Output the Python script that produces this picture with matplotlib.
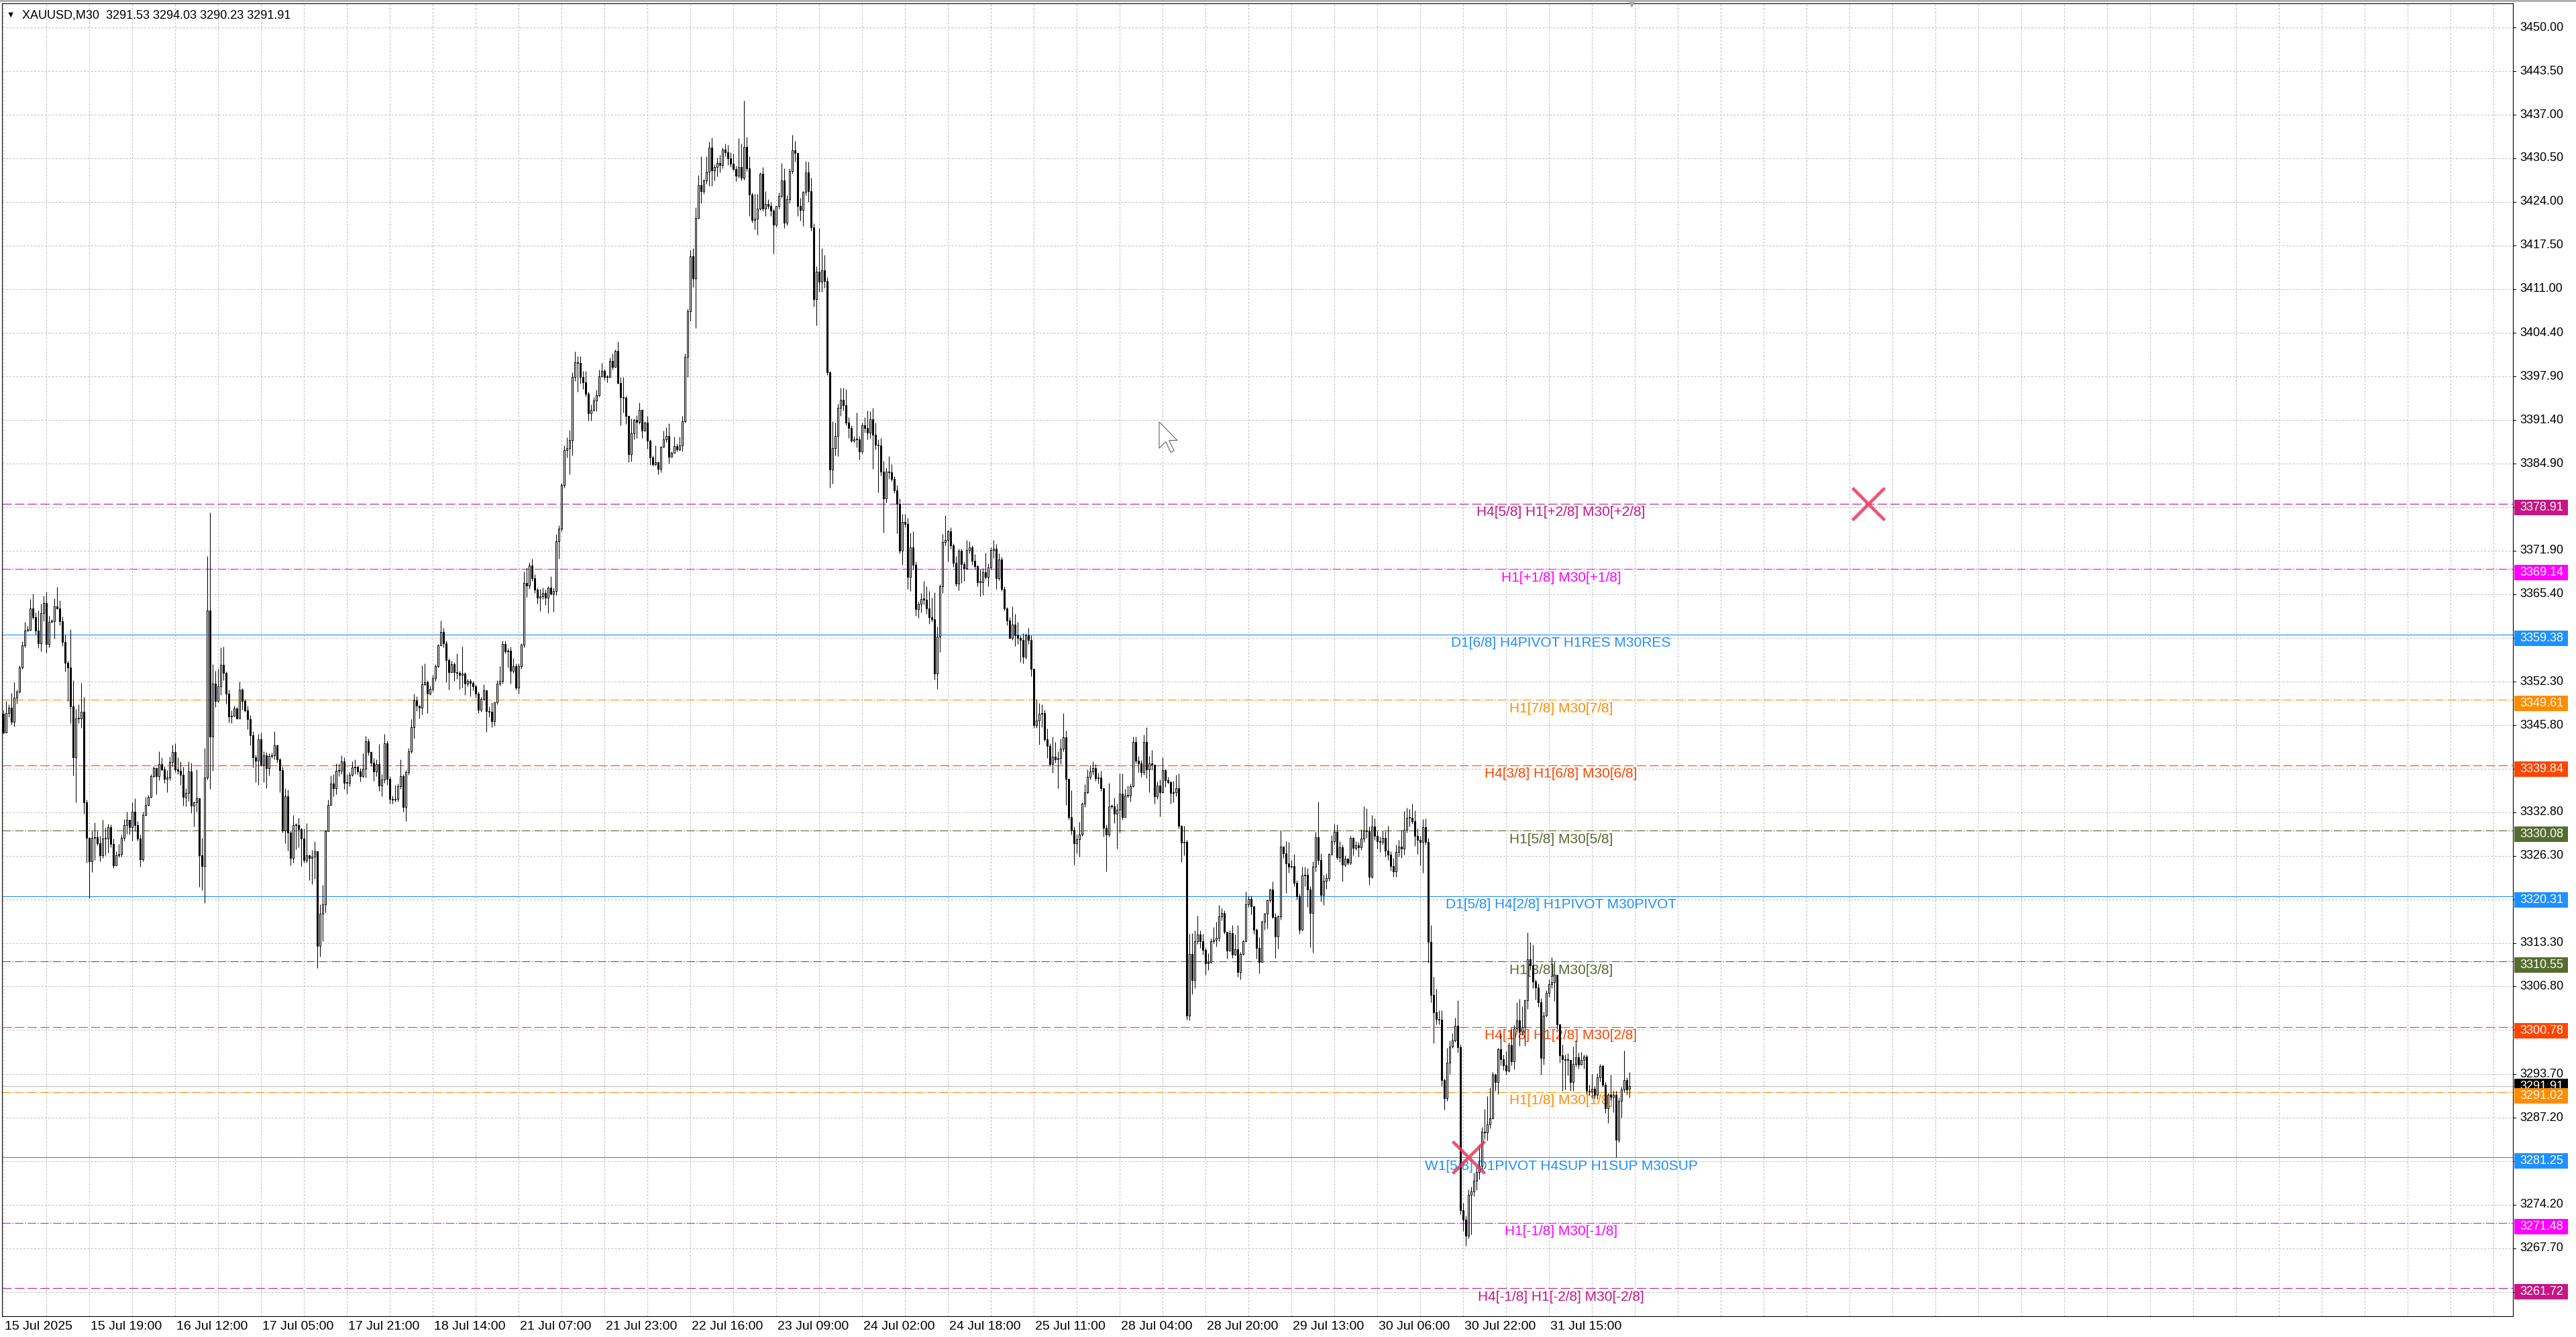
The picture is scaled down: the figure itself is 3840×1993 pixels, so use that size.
import numpy as np
import matplotlib
matplotlib.use('Agg')
import matplotlib.pyplot as plt
from matplotlib.patches import Rectangle, Polygon
from matplotlib.transforms import blended_transform_factory, IdentityTransform

plt.rcParams['font.family'] = ['Liberation Sans', 'DejaVu Sans']
plt.rcParams['lines.scale_dashes'] = False

# ---- data (M30 bars, left to right) ----
symbol = 'XAUUSD,M30'
last_ohlc = [3291.53, 3294.03, 3290.23, 3291.91]
first_open = 3347.5

closes = [
    3344.7, 3347.6, 3348.4, 3346.3, 3349.9, 3350.8, 3354.4, 3357.7, 3360.0, 3360.1,
    3363.3, 3362.0, 3360.0, 3358.0, 3362.6, 3364.1, 3357.9, 3361.3, 3361.4, 3363.6,
    3363.3, 3361.4, 3358.3, 3355.1, 3354.4, 3348.6, 3341.0, 3346.8, 3346.8, 3347.8,
    3334.3, 3329.0, 3325.5, 3329.0, 3329.1, 3328.2, 3326.4, 3328.9, 3328.9, 3330.6,
    3328.1, 3324.9, 3326.4, 3326.6, 3329.0, 3330.9, 3331.7, 3330.6, 3332.9, 3330.9,
    3328.9, 3325.8, 3332.4, 3333.9, 3335.1, 3338.2, 3339.4, 3338.2, 3340.0, 3339.2,
    3337.8, 3338.0, 3340.3, 3341.8, 3339.2, 3339.0, 3338.4, 3335.1, 3335.7, 3338.9,
    3333.8, 3334.3, 3334.9, 3326.4, 3324.8, 3338.0, 3363.0, 3344.1, 3352.0, 3349.4,
    3351.6, 3354.8, 3353.6, 3350.5, 3347.1, 3347.2, 3348.3, 3346.8, 3351.1, 3349.4,
    3348.0, 3346.7, 3344.3, 3341.0, 3340.5, 3343.7, 3339.9, 3341.3, 3339.4, 3341.2,
    3341.3, 3342.8, 3340.7, 3339.1, 3330.1, 3335.2, 3329.8, 3326.0, 3330.9, 3330.9,
    3330.3, 3328.9, 3325.7, 3326.4, 3326.0, 3326.2, 3327.0, 3312.9, 3317.7, 3319.1,
    3330.0, 3333.9, 3337.1, 3336.4,
    3339.0, 3339.0, 3340.4, 3337.2, 3337.2, 3338.4, 3339.5, 3339.6, 3338.9, 3338.2,
    3339.3, 3343.4, 3341.8, 3340.2, 3338.9, 3340.0, 3336.8, 3337.7, 3343.1, 3337.8,
    3334.8, 3334.7, 3334.8, 3336.7, 3338.2, 3333.6, 3338.8, 3341.9, 3345.5, 3349.5,
    3348.7, 3348.4, 3351.9, 3352.2, 3350.5, 3351.2, 3352.8, 3354.6, 3357.7, 3359.8,
    3358.0, 3355.5, 3353.7, 3354.9, 3353.7, 3353.6, 3353.3, 3353.5, 3352.0, 3352.4,
    3352.1, 3351.6, 3350.5, 3348.1, 3349.7, 3351.0, 3347.9, 3347.8, 3346.4, 3349.2,
    3352.0, 3352.4, 3357.9, 3356.8, 3356.9, 3353.9, 3354.6, 3351.4, 3354.6, 3357.8,
    3367.1, 3366.7, 3369.7, 3367.8, 3366.1, 3364.9, 3365.1, 3365.6, 3364.9, 3366.4,
    3365.5, 3365.9, 3373.3, 3375.2, 3381.7, 3386.9, 3387.2, 3388.4, 3397.8, 3400.0,
    3399.9, 3397.8, 3397.0, 3395.3, 3392.4, 3392.9, 3394.3, 3395.1, 3397.9,
    3398.7, 3397.8, 3397.8, 3400.2, 3399.3, 3401.7, 3396.9, 3394.8, 3394.7, 3392.0,
    3386.3, 3389.4, 3391.4, 3391.1, 3392.9, 3389.8, 3391.0, 3388.3, 3385.8, 3384.8,
    3385.1, 3384.1, 3387.4, 3388.5, 3389.0, 3385.9, 3386.5, 3387.5, 3387.0, 3387.6,
    3391.2, 3400.8, 3407.6, 3415.9, 3412.6, 3421.6, 3426.5, 3425.6, 3427.2, 3428.5,
    3432.1, 3428.7, 3429.2, 3429.8, 3429.5, 3431.8, 3431.4, 3430.5, 3429.7, 3428.9,
    3427.9, 3429.2, 3427.6, 3432.2, 3429.0, 3425.1, 3421.3, 3421.5, 3423.0, 3428.2,
    3423.0, 3423.7, 3423.4, 3422.7, 3420.6, 3423.4, 3424.9, 3427.2, 3420.9, 3424.4,
    3428.6, 3431.7, 3431.3, 3423.4, 3422.8, 3425.5, 3428.4, 3425.6, 3420.2, 3409.5,
    3413.6, 3412.1, 3413.8, 3412.2, 3398.5, 3384.0, 3387.2, 3389.0, 3393.2, 3394.4,
    3393.6, 3391.0, 3390.2, 3388.3, 3388.5, 3388.5, 3386.7, 3390.6, 3390.2,
    3389.5, 3391.5, 3389.2, 3387.7, 3387.6, 3383.7, 3379.7, 3383.7, 3383.6, 3382.6,
    3380.9, 3378.9, 3371.9, 3376.2, 3375.9, 3368.0, 3372.4, 3369.8, 3363.2, 3364.0,
    3364.7, 3364.6, 3363.3, 3362.0, 3361.7, 3353.5, 3359.1, 3366.6, 3373.2, 3373.5,
    3374.8, 3372.7, 3370.1, 3367.0, 3371.9, 3369.9, 3369.3, 3372.0, 3372.4, 3370.4,
    3369.6, 3367.2, 3367.2, 3368.7, 3368.0, 3369.4, 3372.0, 3372.2, 3367.8, 3370.6,
    3366.2, 3363.3, 3361.5, 3358.9, 3360.9, 3359.3, 3358.9, 3358.6, 3356.0, 3359.3,
    3358.6, 3354.2, 3345.8, 3346.5, 3347.5, 3347.6, 3343.7, 3342.7, 3340.0, 3341.1,
    3340.7, 3340.9, 3342.3, 3344.0, 3337.8, 3332.1, 3330.2, 3328.2, 3328.8, 3329.5,
    3334.1, 3335.8, 3338.1, 3338.9, 3339.4, 3337.9, 3338.0, 3336.4, 3330.5, 3329.5,
    3333.7, 3333.7, 3332.6, 3333.2, 3335.6, 3332.1, 3335.3, 3335.3,
    3336.7, 3343.3, 3340.5, 3340.1, 3338.8, 3343.3, 3339.2, 3340.1, 3339.9, 3335.2,
    3336.8, 3335.8, 3339.1, 3337.6, 3337.3, 3335.7, 3335.8, 3336.4, 3330.8, 3328.3,
    3328.4, 3302.4, 3311.7, 3307.7, 3313.6, 3314.6, 3313.6, 3312.3, 3310.3, 3310.5,
    3313.6, 3313.8, 3314.1, 3317.3, 3317.8, 3315.0, 3312.2, 3314.8, 3311.6, 3312.4,
    3309.0, 3311.7, 3313.6, 3319.1, 3319.9, 3318.8, 3315.3, 3312.6, 3310.5, 3316.5,
    3317.7, 3319.7, 3321.3, 3317.2, 3314.3, 3317.3, 3327.7, 3326.7, 3325.2, 3324.7,
    3324.8, 3322.3, 3320.3, 3315.3, 3323.4, 3323.5, 3321.3, 3317.8, 3324.7, 3329.1,
    3325.7, 3320.5, 3322.6, 3323.0, 3326.6, 3328.5, 3329.9, 3326.1, 3327.6, 3325.0,
    3325.9, 3325.3, 3329.0, 3327.5, 3327.9, 3327.6, 3328.9, 3330.1, 3330.0, 3323.2,
    3330.7, 3329.3, 3328.5, 3328.4, 3329.0, 3327.1, 3326.5, 3324.8, 3324.0,
    3326.9, 3327.7, 3327.4, 3330.2, 3332.0, 3332.0, 3331.5, 3329.3, 3328.7, 3328.4,
    3330.6, 3328.4, 3313.5, 3305.5, 3302.9, 3301.9, 3301.8, 3292.8, 3290.1, 3295.4,
    3297.8, 3298.7, 3300.9, 3297.7, 3273.4, 3272.0, 3269.6, 3275.7, 3276.2, 3277.8,
    3279.1, 3280.0, 3285.1, 3285.0, 3286.2, 3287.1, 3293.6, 3292.5, 3297.4, 3295.9,
    3295.0, 3294.2, 3298.0, 3295.6, 3300.5, 3301.7, 3300.0, 3300.7, 3304.7, 3310.9,
    3310.0, 3307.5, 3306.6, 3304.4, 3296.1, 3302.4, 3305.8, 3307.1, 3307.4, 3308.6,
    3301.1, 3296.5, 3295.9, 3295.8, 3295.8, 3292.5, 3295.2, 3296.2, 3295.1, 3295.8,
    3296.3, 3291.2, 3291.1, 3291.5, 3290.6, 3293.2, 3294.9, 3292.1, 3288.6, 3290.6,
    3290.3, 3290.6, 3283.9, 3289.7, 3291.4, 3292.8, 3291.4, 3291.91,
]

highs = [
    3348.0, 3349.4, 3348.9, 3350.6, 3352.2, 3351.1, 3354.7, 3358.4, 3361.3, 3360.7,
    3364.7, 3365.5, 3362.7, 3363.0, 3364.0, 3365.2, 3365.8, 3362.2, 3361.7, 3364.8,
    3366.5, 3364.5, 3362.1, 3359.4, 3355.4, 3360.2, 3352.5, 3348.2, 3348.9, 3352.1,
    3350.0, 3334.7, 3329.1, 3330.0, 3331.3, 3330.0, 3329.3, 3331.7, 3330.5, 3331.1,
    3331.0, 3328.9, 3327.0, 3328.1, 3329.5, 3331.8, 3332.9, 3331.5, 3334.3, 3334.9,
    3331.5, 3329.5, 3332.9, 3335.1, 3335.4, 3338.5, 3339.7, 3339.5, 3341.9, 3341.0,
    3339.7, 3339.1, 3341.1, 3342.9, 3343.1, 3341.0, 3340.4, 3339.6, 3336.4, 3340.4,
    3340.2, 3334.4, 3339.2, 3334.5, 3329.0, 3342.4, 3371.1, 3377.6, 3354.9, 3353.9,
    3354.2, 3357.4, 3357.5, 3353.8, 3351.1, 3348.0, 3348.7, 3348.5, 3352.3, 3351.3,
    3349.7, 3348.7, 3347.3, 3344.9, 3341.4, 3344.5, 3344.7, 3341.9, 3341.8, 3341.6,
    3341.7, 3344.9, 3342.9, 3340.9, 3339.6, 3336.4, 3336.2, 3330.1, 3332.4, 3331.2,
    3332.0, 3330.5, 3330.4, 3331.2, 3326.5, 3327.2, 3328.5, 3326.8, 3319.1, 3322.0,
    3330.2, 3334.7, 3338.3, 3338.5,
    3340.1, 3340.1, 3341.3, 3341.0, 3338.5, 3338.8, 3340.4, 3340.7, 3339.7, 3339.4,
    3341.6, 3344.2, 3343.8, 3341.9, 3340.9, 3340.7, 3343.0, 3338.5, 3344.5, 3343.5,
    3338.2, 3335.3, 3336.9, 3337.1, 3340.7, 3338.5, 3339.1, 3342.4, 3346.7, 3350.5,
    3350.1, 3348.6, 3354.7, 3355.0, 3352.5, 3351.7, 3353.3, 3354.9, 3357.9, 3361.5,
    3360.4, 3358.5, 3355.8, 3355.4, 3355.2, 3356.5, 3353.9, 3357.5, 3353.7, 3352.7,
    3352.7, 3352.4, 3351.9, 3350.8, 3350.0, 3351.9, 3349.5, 3348.6, 3349.2, 3349.3,
    3352.5, 3354.6, 3358.5, 3358.5, 3357.3, 3357.5, 3355.8, 3355.0, 3355.0, 3358.0,
    3368.8, 3369.4, 3370.2, 3370.7, 3368.4, 3366.4, 3366.2, 3366.4, 3366.1, 3366.6,
    3368.1, 3366.4, 3374.4, 3375.7, 3382.0, 3387.6, 3388.8, 3389.9, 3398.5, 3401.6,
    3400.9, 3400.9, 3398.7, 3398.7, 3395.6, 3393.7, 3394.8, 3395.9, 3398.9,
    3399.9, 3399.0, 3398.1, 3400.7, 3401.3, 3401.9, 3403.1, 3397.8, 3397.8, 3395.0,
    3391.9, 3391.6, 3391.6, 3392.1, 3394.0, 3393.0, 3391.2, 3392.0, 3388.5, 3386.1,
    3387.6, 3385.1, 3387.5, 3389.8, 3390.3, 3390.9, 3386.7, 3388.9, 3387.9, 3388.9,
    3392.0, 3401.3, 3408.0, 3416.8, 3417.1, 3423.2, 3428.0, 3430.8, 3427.4, 3430.8,
    3433.0, 3433.6, 3429.6, 3430.6, 3431.0, 3432.1, 3432.7, 3432.5, 3431.4, 3431.2,
    3429.4, 3433.5, 3432.7, 3439.1, 3433.7, 3430.8, 3425.4, 3425.2, 3425.2, 3428.4,
    3429.2, 3425.6, 3424.4, 3424.0, 3423.0, 3423.4, 3425.4, 3429.8, 3429.0, 3425.0,
    3429.0, 3434.0, 3433.1, 3431.3, 3424.6, 3425.6, 3430.1, 3430.0, 3427.6, 3420.8,
    3414.4, 3420.1, 3417.1, 3416.1, 3412.8, 3398.7, 3391.2, 3391.0, 3393.8, 3396.2,
    3396.2, 3396.0, 3391.8, 3390.6, 3389.0, 3392.5, 3389.0, 3391.0, 3391.8,
    3392.8, 3392.7, 3393.2, 3391.0, 3388.5, 3388.7, 3385.3, 3384.3, 3386.0, 3384.8,
    3383.0, 3381.7, 3379.7, 3377.4, 3377.4, 3376.8, 3374.6, 3374.8, 3370.3, 3364.3,
    3365.6, 3367.4, 3366.6, 3365.9, 3364.9, 3365.7, 3360.6, 3366.9, 3374.4, 3377.2,
    3375.0, 3375.4, 3373.0, 3371.1, 3372.2, 3372.2, 3370.3, 3373.5, 3373.3, 3372.7,
    3371.4, 3369.8, 3369.1, 3369.3, 3371.6, 3370.0, 3372.4, 3373.5, 3372.9, 3371.5,
    3371.0, 3366.6, 3363.5, 3362.0, 3363.6, 3362.5, 3361.3, 3359.3, 3359.6, 3359.6,
    3360.4, 3359.3, 3354.2, 3349.7, 3349.1, 3348.9, 3348.1, 3345.3, 3343.1, 3344.1,
    3343.3, 3341.9, 3343.8, 3347.6, 3345.0, 3336.1, 3336.1, 3330.7, 3329.5, 3331.4,
    3334.3, 3337.0, 3339.2, 3339.9, 3340.4, 3340.0, 3338.7, 3339.0, 3335.2, 3331.0,
    3337.2, 3334.0, 3335.0, 3334.1, 3338.6, 3338.6, 3336.3, 3336.8,
    3337.1, 3344.1, 3344.1, 3341.2, 3340.6, 3344.4, 3345.5, 3341.2, 3342.1, 3339.9,
    3337.4, 3337.7, 3341.0, 3339.3, 3338.1, 3337.5, 3337.5, 3338.4, 3338.6, 3330.9,
    3330.8, 3328.7, 3314.7, 3314.8, 3315.2, 3317.4, 3315.2, 3314.7, 3312.6, 3311.8,
    3314.0, 3315.7, 3316.5, 3319.0, 3318.5, 3318.2, 3314.1, 3315.2, 3316.0, 3314.6,
    3316.0, 3312.0, 3313.8, 3321.0, 3320.4, 3320.4, 3318.8, 3315.5, 3314.2, 3316.7,
    3317.8, 3319.8, 3321.4, 3322.5, 3317.8, 3317.5, 3330.1, 3327.8, 3328.5, 3328.4,
    3325.7, 3326.6, 3322.7, 3320.7, 3324.7, 3324.7, 3324.5, 3321.8, 3325.5, 3329.9,
    3334.4, 3326.7, 3323.5, 3323.7, 3326.7, 3329.4, 3331.1, 3331.0, 3328.5, 3328.0,
    3326.4, 3326.0, 3329.3, 3329.1, 3328.5, 3328.4, 3330.3, 3333.7, 3333.4, 3330.7,
    3332.4, 3331.9, 3330.0, 3329.2, 3330.1, 3330.0, 3330.8, 3327.0, 3326.0,
    3328.0, 3328.7, 3330.2, 3333.0, 3333.5, 3333.3, 3334.1, 3333.1, 3330.4, 3329.3,
    3331.8, 3331.9, 3329.0, 3316.0, 3308.3, 3306.4, 3303.2, 3303.2, 3293.0, 3297.6,
    3298.7, 3299.8, 3302.1, 3304.7, 3298.1, 3274.5, 3272.6, 3276.5, 3276.9, 3279.0,
    3280.0, 3283.2, 3285.8, 3288.5, 3290.4, 3291.7, 3294.0, 3293.8, 3297.6, 3299.8,
    3296.6, 3297.1, 3298.4, 3300.6, 3301.0, 3304.4, 3304.9, 3303.8, 3304.8, 3314.9,
    3313.5, 3313.1, 3307.8, 3307.2, 3305.0, 3303.0, 3306.2, 3307.8, 3311.2, 3310.5,
    3308.5, 3301.2, 3298.1, 3296.6, 3296.8, 3295.6, 3297.8, 3298.7, 3296.9, 3297.0,
    3296.6, 3296.6, 3292.1, 3293.7, 3291.9, 3293.8, 3295.2, 3295.1, 3292.5, 3290.9,
    3293.6, 3291.2, 3291.2, 3290.2, 3291.8, 3297.2, 3293.2, 3294.03,
]

lows = [
    3344.5, 3345.9, 3347.0, 3345.9, 3345.6, 3349.0, 3350.6, 3354.2, 3357.4, 3359.9,
    3360.0, 3361.7, 3359.4, 3357.3, 3356.8, 3361.4, 3356.6, 3357.4, 3361.2, 3358.8,
    3363.2, 3360.8, 3357.6, 3353.8, 3349.4, 3346.1, 3338.3, 3334.3, 3346.1, 3345.4,
    3332.6, 3325.3, 3320.0, 3323.9, 3325.7, 3327.9, 3325.5, 3326.0, 3326.4, 3326.8,
    3327.6, 3324.5, 3325.7, 3326.1, 3326.2, 3328.6, 3329.6, 3329.5, 3328.6, 3330.0,
    3328.6, 3324.7, 3325.5, 3332.3, 3333.8, 3335.0, 3338.0, 3335.5, 3337.6, 3339.0,
    3337.2, 3335.8, 3337.6, 3339.6, 3338.8, 3338.5, 3336.9, 3333.8, 3333.7, 3334.5,
    3332.7, 3330.7, 3332.9, 3321.7, 3321.2, 3319.3, 3337.7, 3336.3, 3339.0, 3348.5,
    3349.3, 3350.3, 3352.5, 3349.0, 3346.2, 3346.1, 3347.1, 3346.7, 3349.0, 3348.1,
    3347.8, 3345.2, 3342.8, 3339.5, 3337.3, 3336.9, 3339.7, 3337.3, 3336.4, 3338.3,
    3340.9, 3340.7, 3340.2, 3335.8, 3329.8, 3328.2, 3327.1, 3324.9, 3325.3, 3327.3,
    3327.6, 3324.8, 3325.3, 3325.3, 3322.7, 3322.1, 3322.9, 3309.6, 3311.3, 3313.6,
    3317.9, 3330.0, 3334.2, 3335.2,
    3335.5, 3338.2, 3338.5, 3336.3, 3335.6, 3336.7, 3338.2, 3338.5, 3338.5, 3337.4,
    3338.0, 3338.0, 3341.3, 3339.7, 3337.5, 3338.2, 3336.0, 3335.2, 3337.2, 3336.9,
    3334.1, 3334.1, 3334.4, 3334.4, 3336.3, 3332.9, 3331.5, 3338.4, 3341.6, 3343.8,
    3347.9, 3346.8, 3347.4, 3351.7, 3347.6, 3350.3, 3350.8, 3352.4, 3354.4, 3357.7,
    3357.4, 3352.2, 3351.1, 3353.9, 3352.4, 3352.7, 3351.2, 3351.4, 3350.3, 3351.6,
    3350.1, 3351.0, 3349.9, 3347.6, 3347.8, 3349.5, 3344.8, 3347.0, 3345.5, 3345.7,
    3348.9, 3351.7, 3352.0, 3356.5, 3354.4, 3352.0, 3353.6, 3351.1, 3350.5, 3354.2,
    3357.4, 3365.0, 3366.2, 3367.4, 3365.6, 3364.0, 3362.9, 3364.7, 3363.8, 3362.6,
    3365.3, 3362.8, 3365.3, 3370.7, 3374.8, 3381.3, 3385.8, 3383.3, 3386.1, 3397.2,
    3395.6, 3396.8, 3396.0, 3394.9, 3391.3, 3391.3, 3392.7, 3392.7, 3394.9,
    3397.8, 3397.4, 3397.0, 3398.3, 3398.9, 3399.3, 3396.8, 3390.6, 3392.5, 3390.8,
    3385.1, 3385.2, 3388.5, 3388.7, 3390.8, 3388.7, 3389.9, 3387.1, 3384.7, 3384.5,
    3384.6, 3383.3, 3383.6, 3387.3, 3388.1, 3384.9, 3385.9, 3386.5, 3386.7, 3386.8,
    3386.7, 3391.0, 3397.8, 3406.2, 3411.3, 3405.1, 3421.5, 3423.8, 3425.2, 3426.7,
    3426.4, 3426.4, 3427.2, 3427.8, 3428.4, 3429.0, 3430.8, 3429.5, 3429.2, 3428.7,
    3427.1, 3427.6, 3427.2, 3427.3, 3428.6, 3421.9, 3420.9, 3419.9, 3419.1, 3422.8,
    3422.7, 3421.9, 3423.0, 3421.9, 3416.3, 3420.3, 3423.0, 3424.6, 3420.1, 3420.5,
    3423.8, 3428.2, 3430.0, 3421.9, 3421.2, 3420.4, 3425.0, 3424.0, 3419.7, 3408.4,
    3405.5, 3410.6, 3410.6, 3411.2, 3398.1, 3381.3, 3381.9, 3386.1, 3386.0, 3392.0,
    3392.8, 3390.6, 3388.7, 3388.1, 3388.1, 3387.3, 3385.5, 3386.4, 3389.5,
    3388.5, 3388.7, 3384.1, 3387.0, 3380.6, 3383.1, 3374.6, 3379.1, 3382.6, 3382.3,
    3380.5, 3374.5, 3371.5, 3369.8, 3375.4, 3366.2, 3365.9, 3369.1, 3362.2, 3361.9,
    3362.7, 3363.9, 3362.5, 3361.0, 3361.3, 3352.6, 3351.2, 3356.7, 3365.6, 3372.7,
    3370.3, 3372.2, 3369.5, 3366.6, 3366.0, 3367.1, 3367.4, 3369.1, 3371.5, 3369.8,
    3369.1, 3366.6, 3365.1, 3365.3, 3367.7, 3366.6, 3369.1, 3370.8, 3366.2, 3367.5,
    3365.9, 3363.0, 3360.8, 3358.8, 3358.6, 3357.6, 3357.9, 3355.2, 3355.0, 3355.7,
    3357.9, 3353.1, 3345.4, 3345.4, 3342.9, 3345.5, 3343.4, 3340.9, 3339.7, 3338.7,
    3340.2, 3336.4, 3340.0, 3341.9, 3333.9, 3331.7, 3329.5, 3325.0, 3326.7, 3326.2,
    3329.3, 3333.6, 3335.6, 3337.7, 3338.4, 3337.5, 3337.1, 3336.0, 3329.2, 3324.0,
    3329.2, 3333.4, 3331.2, 3327.4, 3329.8, 3331.7, 3332.9, 3335.0,
    3334.4, 3336.6, 3340.1, 3338.8, 3338.1, 3338.4, 3337.9, 3335.8, 3339.1, 3334.1,
    3334.8, 3332.2, 3335.7, 3336.6, 3337.1, 3334.1, 3334.3, 3335.2, 3330.4, 3325.4,
    3326.4, 3301.8, 3301.7, 3305.6, 3306.5, 3313.2, 3312.6, 3311.6, 3308.6, 3309.3,
    3310.3, 3313.3, 3312.8, 3313.6, 3316.7, 3314.7, 3311.0, 3312.1, 3311.1, 3311.5,
    3308.3, 3307.8, 3311.5, 3313.5, 3318.7, 3317.6, 3314.7, 3311.0, 3308.8, 3310.5,
    3315.3, 3315.5, 3319.4, 3317.0, 3311.1, 3312.5, 3316.8, 3326.0, 3320.8, 3323.8,
    3324.5, 3321.8, 3319.8, 3314.7, 3315.2, 3321.8, 3318.7, 3312.7, 3311.9, 3324.0,
    3325.0, 3319.5, 3319.0, 3321.4, 3322.6, 3326.4, 3328.0, 3325.8, 3325.4, 3322.5,
    3324.7, 3325.0, 3325.0, 3326.4, 3327.2, 3326.2, 3327.2, 3328.4, 3329.0, 3322.0,
    3323.0, 3328.7, 3327.4, 3326.9, 3328.0, 3326.2, 3325.7, 3324.1, 3323.2,
    3323.2, 3326.2, 3326.0, 3326.5, 3329.8, 3330.7, 3331.1, 3327.8, 3326.6, 3324.9,
    3323.8, 3328.0, 3310.4, 3304.4, 3298.3, 3301.1, 3301.1, 3291.9, 3288.4, 3289.7,
    3293.7, 3297.6, 3298.5, 3296.9, 3272.8, 3270.3, 3268.1, 3269.2, 3269.8, 3275.5,
    3276.4, 3278.0, 3279.5, 3284.0, 3283.8, 3285.6, 3287.0, 3291.2, 3290.7, 3295.0,
    3294.3, 3293.6, 3294.0, 3295.0, 3294.4, 3300.0, 3297.9, 3299.5, 3297.9, 3303.4,
    3309.3, 3306.5, 3304.8, 3303.7, 3293.6, 3295.1, 3302.3, 3305.2, 3306.5, 3304.6,
    3300.4, 3295.4, 3291.2, 3291.4, 3293.5, 3291.2, 3291.2, 3294.8, 3294.5, 3295.2,
    3294.5, 3290.7, 3290.5, 3290.1, 3290.1, 3290.0, 3292.6, 3291.8, 3287.9, 3286.4,
    3289.8, 3288.0, 3281.3, 3283.5, 3287.2, 3291.0, 3290.6, 3290.23,
]

# Murrey-math style levels
level_prices = [3378.91, 3369.14, 3359.38, 3349.61, 3339.84, 3330.08, 3320.31,
                3310.55, 3300.78, 3291.02, 3281.25, 3271.48, 3261.72]
level_colors = ['#c71585', '#ff00ff', '#1e90ff', '#ff8c00', '#ff4500', '#556b2f', '#1e90ff',
                '#556b2f', '#ff4500', '#ff8c00', '#1e90ff', '#ff00ff', '#c71585']
level_styles = ['dash', 'dashdot', 'solid', 'dashdot', 'dash', 'dashdot', 'solid',
                'dashdot', 'dash', 'dashdot', 'solid', 'dashdot', 'dash']
level_texts = ['H4[5/8] H1[+2/8] M30[+2/8]', 'H1[+1/8] M30[+1/8]',
               'D1[6/8] H4PIVOT H1RES M30RES', 'H1[7/8] M30[7/8]',
               'H4[3/8] H1[6/8] M30[6/8]', 'H1[5/8] M30[5/8]',
               'D1[5/8] H4[2/8] H1PIVOT M30PIVOT', 'H1[3/8] M30[3/8]',
               'H4[1/8] H1[2/8] M30[2/8]', 'H1[1/8] M30[1/8]',
               'W1[5/8] D1PIVOT H4SUP H1SUP M30SUP', 'H1[-1/8] M30[-1/8]',
               'H4[-1/8] H1[-2/8] M30[-2/8]']

price_grid = [3450.00, 3443.50, 3437.00, 3430.50, 3424.00, 3417.50, 3411.00, 3404.40,
              3397.90, 3391.40, 3384.90, 3378.40, 3371.90, 3365.40, 3358.90, 3352.30,
              3345.80, 3339.30, 3332.80, 3326.30, 3319.80, 3313.30, 3306.80, 3300.30,
              3293.70, 3287.20, 3280.70, 3274.20, 3267.70, 3261.20]

time_labels = ['15 Jul 2025', '15 Jul 19:00', '16 Jul 12:00', '17 Jul 05:00', '17 Jul 21:00',
               '18 Jul 14:00', '21 Jul 07:00', '21 Jul 23:00', '22 Jul 16:00', '23 Jul 09:00',
               '24 Jul 02:00', '24 Jul 18:00', '25 Jul 11:00', '28 Jul 04:00', '28 Jul 20:00',
               '29 Jul 13:00', '30 Jul 06:00', '30 Jul 22:00', '31 Jul 15:00']

cross_bars = [547, 696]
cross_prices = [3281.25, 3378.91]

# ---- build bars ----
n = min(len(closes), len(highs), len(lows))
c = np.array(closes[:n])
o = np.concatenate([[first_open], c[:-1]])
o[-1] = last_ohlc[0]
h = np.maximum(np.array(highs[:n]), np.maximum(o, c))
l = np.minimum(np.array(lows[:n]), np.minimum(o, c))
x = np.arange(1, n + 1)

W, H = 3840, 1993
fig = plt.figure(figsize=(W / 100, H / 100), dpi=100, facecolor='white')
ax = fig.add_axes([3 / W, (H - 1962) / H, 3743 / W, 1957 / H])
ax.set_xlim(0.5, 936.25)
ax.set_ylim(3257.55, 3453.64)
ax.set_xticks([])
ax.set_yticks([])
for s in ax.spines.values():
    s.set_color('black')
    s.set_linewidth(0.8)

grid_kw = dict(color='#c3c3c3', lw=0.75, dashes=(2.2, 1.6), zorder=1)
for g in price_grid:
    ax.axhline(g, **grid_kw)
for gx in range(1, 937, 16):
    ax.axvline(gx, **grid_kw)

# bid line
ax.axhline(last_ohlc[3], color='#c0c0c0', lw=0.9, zorder=1.5)

style_map = {'dash': (10, 3.6), 'dashdot': (9, 1.7, 1.2, 1.7)}
for p, col, st, txt in zip(level_prices, level_colors, level_styles, level_texts):
    if st == 'solid':
        ax.axhline(p, color=col, lw=0.8, zorder=2)
    else:
        ax.axhline(p, color=col, lw=0.8, dashes=style_map[st], zorder=2)
    ax.annotate(txt, xy=(581.5, p), xytext=(0, -2.5), textcoords='offset points',
                ha='center', va='top', fontsize=15, color=col, zorder=2.5)

# candles
ax.vlines(x, l, h, color='black', lw=0.75, zorder=3)
up = c >= o
bot = np.minimum(o, c)
hgt = np.maximum(np.abs(c - o), 0.12)
ax.bar(x[up], hgt[up], bottom=bot[up], width=0.6, color='white',
       edgecolor='black', linewidth=0.75, zorder=4)
ax.bar(x[~up], hgt[~up], bottom=bot[~up], width=0.6, color='black',
       edgecolor='black', linewidth=0.75, zorder=4)

# cross markers
ax.plot(cross_bars, cross_prices, linestyle='none', marker='x', markersize=34,
        markeredgewidth=3.4, color='#e8375a', alpha=0.85, zorder=7)

# right price scale
btr = blended_transform_factory(ax.transAxes, ax.transData)
tick_len = 4 / 3743
for g in price_grid:
    if g < 3257.55:
        continue
    ax.plot([1, 1 + tick_len], [g, g], color='black', lw=0.75, transform=btr,
            clip_on=False, zorder=5)
    if min(abs(g - lp) for lp in level_prices) < 1.0:
        continue
    ax.annotate('%.2f' % g, xy=(1, g), xycoords=('axes fraction', 'data'),
                xytext=(7.2, 0), textcoords='offset points', ha='left', va='center',
                fontsize=13, color='black', annotation_clip=False)

box_w = 80 / 3743
# current price box sits on its line, level boxes hang a little below theirs
ax.add_patch(Rectangle((2 / 3743 + 1, last_ohlc[3] - 1.1), box_w, 2.2, transform=btr,
                       facecolor='black', edgecolor='none', clip_on=False, zorder=8))
ax.annotate('%.2f' % last_ohlc[3], xy=(1, last_ohlc[3]), xycoords=('axes fraction', 'data'),
            xytext=(7.2, 0), textcoords='offset points', ha='left', va='center',
            fontsize=13, color='white', annotation_clip=False, zorder=9)
for p, col in zip(level_prices, level_colors):
    ax.add_patch(Rectangle((2 / 3743 + 1, p - 1.7), box_w, 2.3, transform=btr,
                           facecolor=col, edgecolor='none', clip_on=False, zorder=10))
    ax.annotate('%.2f' % p, xy=(1, p - 0.55), xycoords=('axes fraction', 'data'),
                xytext=(7.2, 0), textcoords='offset points', ha='left', va='center',
                fontsize=13, color='white', annotation_clip=False, zorder=11)

# time scale
for k, lab in enumerate(time_labels):
    ax.annotate(lab, xy=(1 + 32 * k, 0), xycoords=('data', 'axes fraction'),
                xytext=(1.5, -11.5), textcoords='offset points', ha='left', va='center',
                fontsize=14, color='black', annotation_clip=False)

# header
fig.text(9 / W, 1 - 23 / H, '\u25bc', fontsize=9, va='center', ha='left', color='black')
fig.text(33 / W, 1 - 23 / H, '%s  %.2f %.2f %.2f %.2f' % (symbol, *last_ohlc),
         fontsize=13, va='center', ha='left', color='black')

# chart shift marker at top
ax.plot([n + 0.75], [1.0], marker='v', markersize=7, color='#a8a8a8',
        transform=blended_transform_factory(ax.transData, ax.transAxes), clip_on=False, zorder=9)
fig.add_artist(Rectangle((0, H - 3), W, 3, transform=IdentityTransform(),
                         facecolor='#b0b0b0', edgecolor='none'))

# mouse pointer
tip = (1728, H - 629)
shape = [(0, 0), (0, 16), (4, 12), (7, 18.5), (9, 17.5), (6, 11.2), (11, 11.2)]
pts = [(tip[0] + dx * 2.45, tip[1] - dy * 2.45) for dx, dy in shape]
fig.add_artist(Polygon(pts, closed=True, transform=IdentityTransform(),
                       facecolor='white', edgecolor='#606060', lw=0.8, zorder=10))

fig.savefig('out.png', dpi=100, facecolor='white')
